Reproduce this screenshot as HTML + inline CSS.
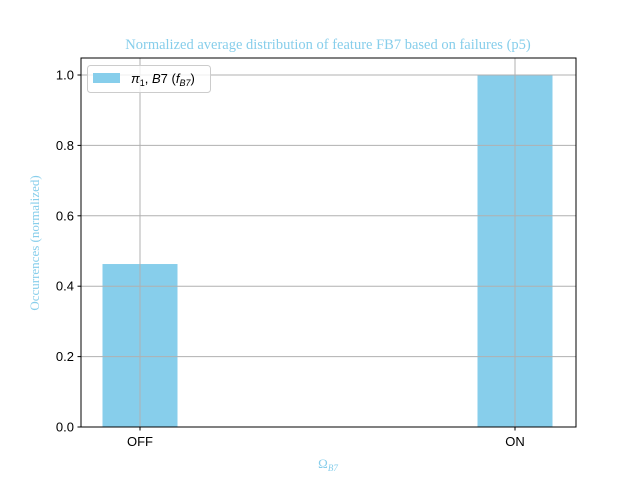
<!DOCTYPE html>
<html><head><meta charset="utf-8"><style>
body{margin:0;background:#fff;width:640px;height:480px;overflow:hidden}
svg text{font-family:"Liberation Sans",sans-serif}
</style></head><body>
<svg id="chart" width="640" height="480">
<text x="328" y="49" text-anchor="middle" fill="#87ceeb" font-size="14.5" style="font-family:'Liberation Serif',serif">Normalized average distribution of feature FB7 based on failures (p5)</text>
<g id="grid"></g>
<g id="bars"></g>
<g id="gridv"></g>
<rect x="81" y="58" width="495" height="369" fill="none" stroke="#000" stroke-width="1"/>
<g id="axes"></g>
<text x="328" y="468" text-anchor="middle" fill="#87ceeb" font-size="13" style="font-family:'Liberation Serif',serif">Ω<tspan font-size="9" font-style="italic" dy="3">B7</tspan></text>
<text transform="translate(39,243) rotate(-90)" text-anchor="middle" fill="#87ceeb" font-size="13" style="font-family:'Liberation Serif',serif">Occurrences (normalized)</text>
<g>
<rect x="87.5" y="65.5" width="123" height="27" rx="3" fill="#fff" fill-opacity="0.8" stroke="#ccc"/>
<rect x="93" y="73" width="27" height="10" fill="#87ceeb"/>
<text x="131" y="83" font-size="13"><tspan font-style="italic">π</tspan><tspan font-size="9" dy="3">1</tspan><tspan dy="-3">, </tspan><tspan font-style="italic">B</tspan>7 (<tspan font-style="italic">f</tspan><tspan font-size="9" font-style="italic" dy="3">B7</tspan><tspan dy="-3">)</tspan></text>
</g>
</svg>
<script>
const categories=["OFF","ON"];
const values=[0.463,1.0];
const yTicks=[0,0.2,0.4,0.6,0.8,1.0];
const yTickLabels=["0.0","0.2","0.4","0.6","0.8","1.0"];
const NS="http://www.w3.org/2000/svg";
const x0=81,x1=576,yb=427,yt=58;
function yS(v){return yb-v*352;}
function xS(i){return 140+i*375;}
function mk(t,a,p){const e=document.createElementNS(NS,t);for(const k in a)e.setAttribute(k,a[k]);p.appendChild(e);return e;}
const grid=document.getElementById('grid'),bars=document.getElementById('bars'),gv=document.getElementById('gridv'),axes=document.getElementById('axes');
yTicks.forEach((v,i)=>{const y=yS(v);
const g=mk('line',{x1:x0,x2:x1,y1:y,y2:y,stroke:'#b0b0b0','stroke-width':1},gv);


mk('line',{x1:x0-3.5,x2:x0,y1:y,y2:y,stroke:'#000'},axes);
const t=mk('text',{x:x0-7,y:y+4.5,'text-anchor':'end','font-size':13},axes);t.textContent=yTickLabels[i];


});
categories.forEach((c,i)=>{const cx=xS(i);
const b=mk('rect',{x:cx-37.5,y:yS(values[i]),width:75,height:yb-yS(values[i]),fill:'#87ceeb'},bars);


const g=mk('line',{x1:cx,x2:cx,y1:yt,y2:yb,stroke:'#b0b0b0','stroke-width':1},gv);


mk('line',{x1:cx,x2:cx,y1:yb,y2:yb+3.5,stroke:'#000'},axes);
const t=mk('text',{x:cx,y:yb+19,'text-anchor':'middle','font-size':13},axes);t.textContent=c;


});
</script>
</body></html>
